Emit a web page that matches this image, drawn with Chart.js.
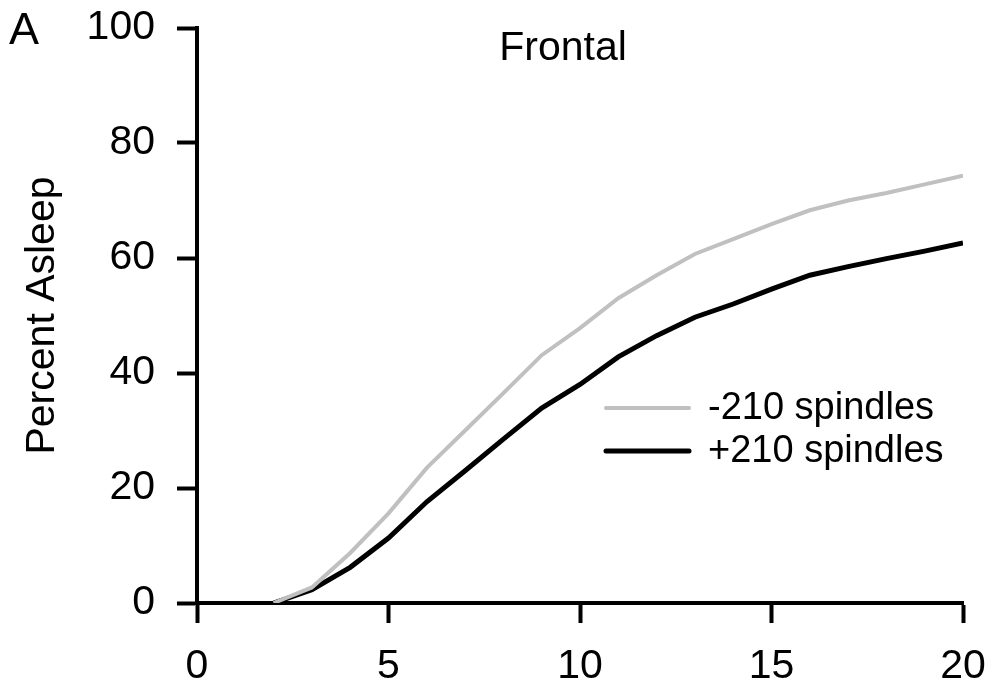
<!DOCTYPE html>
<html>
<head>
<meta charset="utf-8">
<script src="https://cdn.jsdelivr.net/npm/chart.js@4"></script>
<style>
  html, body { margin: 0; padding: 0; background: #fff; }
  #wrap { width: 993px; height: 691px; }
</style>
</head>
<body>
<div id="wrap"><canvas id="c"></canvas></div>
<script>
// hours (x) and percent asleep for each group
const hours = [2, 3, 4, 5, 6, 7, 8, 9, 10, 11, 12, 13, 14, 15, 16, 17, 18, 19, 20]
const minusSpindles = [0, 2.7, 8.7, 15.6, 23.5, 30, 36.5, 43.1, 47.8, 53, 57, 60.7, 63.3, 65.9, 68.3, 70, 71.3, 72.8, 74.3]
const plusSpindles = [0, 2.3, 6.2, 11.3, 17.6, 23, 28.5, 33.9, 38, 42.8, 46.5, 49.7, 52, 54.6, 57, 58.5, 59.9, 61.2, 62.6]
const yTicks = [0, 20, 40, 60, 80, 100]
const xTicks = [0, 5, 10, 15, 20]

const FONT = 'Liberation Sans, Arial, sans-serif'

function toPoints(xs, ys){
    return xs.map((x, i) => ({x: x, y: ys[i]}))
}

// panel letter, title and in-plot legend
const extras = {
    id: 'extras',
    afterDraw(chart){
        const ctx = chart.ctx
        const area = chart.chartArea
        ctx.save()
        ctx.fillStyle = '#000'
        ctx.textBaseline = 'alphabetic'
        ctx.font = '45px ' + FONT
        ctx.textAlign = 'left'
        ctx.fillText('A', 9, 44)
        ctx.font = '41px ' + FONT
        ctx.textAlign = 'center'
        ctx.fillText('Frontal', area.left + 366, 60)

        const items = chart.data.datasets
        items.forEach((ds, i) => {
            const y = 408 + i * 43
            ctx.strokeStyle = ds.borderColor
            ctx.lineWidth = ds.borderWidth
            ctx.lineCap = 'round'
            ctx.beginPath()
            ctx.moveTo(606, y)
            ctx.lineTo(689, y)
            ctx.stroke()
            ctx.textAlign = 'left'
            ctx.textBaseline = 'middle'
            ctx.font = '38px ' + FONT
            ctx.fillText(ds.label, 708, y + 1)
        })
        ctx.restore()
    }
}

new Chart(document.getElementById('c'), {
    type: 'line',
    data: {
        datasets: [
            {
                label: '-210 spindles',
                data: toPoints(hours, minusSpindles),
                borderColor: '#c0c0c0',
                borderWidth: 4,
                pointRadius: 0,
                tension: 0
            },
            {
                label: '+210 spindles',
                data: toPoints(hours, plusSpindles),
                borderColor: '#000000',
                borderWidth: 5,
                pointRadius: 0,
                tension: 0
            }
        ]
    },
    options: {
        responsive: true,
        maintainAspectRatio: false,
        animation: false,
        layout: { padding: { top: 28, right: 30, left: 0, bottom: 0 } },
        plugins: {
            legend: { display: false },
            tooltip: { enabled: false }
        },
        scales: {
            x: {
                type: 'linear',
                min: 0,
                max: 20,
                afterBuildTicks: s => { s.ticks = xTicks.map(v => ({value: v})) },
                afterFit: s => { s.height = 88; s.paddingLeft = 0; s.paddingRight = 0 },
                border: { color: '#000', width: 4 },
                grid: { drawOnChartArea: false, tickLength: 20, tickWidth: 4, tickColor: '#000' },
                ticks: { color: '#000', padding: 19, font: { family: FONT, size: 41 }, maxRotation: 0 }
            },
            y: {
                min: 0,
                max: 100,
                afterBuildTicks: s => { s.ticks = yTicks.map(v => ({value: v})) },
                afterFit: s => { s.width = 197; s.paddingTop = 0; s.paddingBottom = 0 },
                border: { color: '#000', width: 4 },
                grid: { drawOnChartArea: false, tickLength: 20, tickWidth: 4, tickColor: '#000' },
                ticks: { color: '#000', padding: 22, font: { family: FONT, size: 41 } },
                title: {
                    display: true,
                    text: 'Percent Asleep',
                    color: '#000',
                    padding: { top: 18, bottom: 0 },
                    font: { family: FONT, size: 41 }
                }
            }
        }
    },
    plugins: [extras]
})
</script>
</body>
</html>
